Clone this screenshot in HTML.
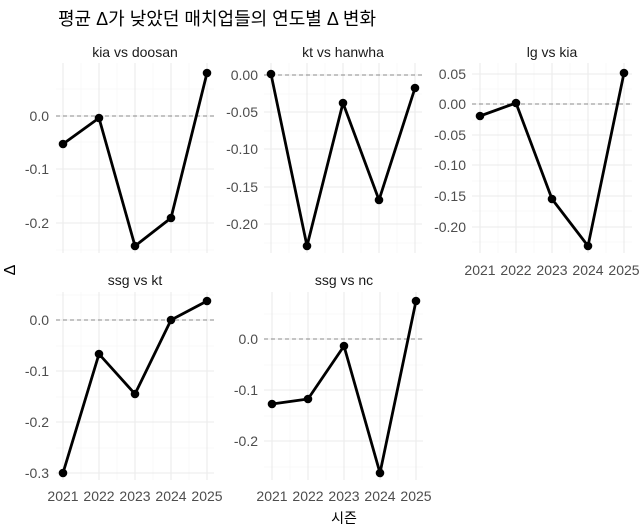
<!DOCTYPE html>
<html><head><meta charset="utf-8"><style>
html,body{margin:0;padding:0;background:#fff;}
svg{display:block;font-family:"Liberation Sans","Noto Sans CJK KR",sans-serif;}
.mj{stroke:#ebebeb;stroke-width:1.1;}
.mn{stroke:#f4f4f4;stroke-width:0.6;}
.z{stroke:#888;stroke-width:1;stroke-dasharray:4,3;}
.l{fill:none;stroke:#000;stroke-width:2.8;stroke-linejoin:round;}
.t{fill:#4d4d4d;font-size:14px;}
.s{fill:#1a1a1a;font-size:14px;}
</style></head><body>
<svg width="640" height="527" viewBox="0 0 640 527">
<text x="58" y="25" font-size="18" fill="#000">평균 Δ가 낮았던 매치업들의 연도별 Δ 변화</text>
<text x="15" y="270" font-size="16" fill="#000" transform="rotate(-90 15 270)" text-anchor="middle">Δ</text>
<text x="344" y="523" font-size="14" fill="#000" text-anchor="middle">시즌</text>

<!-- P1 -->
<g>
<line class="mn" x1="56" x2="214" y1="89" y2="89"/><line class="mn" x1="56" x2="214" y1="142" y2="142"/><line class="mn" x1="56" x2="214" y1="196" y2="196"/><line class="mn" x1="56" x2="214" y1="250" y2="250"/>
<line class="mn" x1="81" x2="81" y1="63" y2="253"/><line class="mn" x1="117" x2="117" y1="63" y2="253"/><line class="mn" x1="153" x2="153" y1="63" y2="253"/><line class="mn" x1="189" x2="189" y1="63" y2="253"/>
<line class="mj" x1="56" x2="214" y1="116" y2="116"/><line class="mj" x1="56" x2="214" y1="169" y2="169"/><line class="mj" x1="56" x2="214" y1="223" y2="223"/>
<line class="mj" x1="63" x2="63" y1="63" y2="253"/><line class="mj" x1="99" x2="99" y1="63" y2="253"/><line class="mj" x1="135" x2="135" y1="63" y2="253"/><line class="mj" x1="171" x2="171" y1="63" y2="253"/><line class="mj" x1="207" x2="207" y1="63" y2="253"/>
<line class="z" x1="56" x2="214" y1="116" y2="116"/>
<text class="t" x="49" y="121" text-anchor="end">0.0</text><text class="t" x="49" y="174" text-anchor="end">-0.1</text><text class="t" x="49" y="228" text-anchor="end">-0.2</text>
<text class="s" x="135" y="57" text-anchor="middle">kia vs doosan</text>
<polyline class="l" points="63,144 99,118 135,246 171,218 207,73"/>
<circle cx="63" cy="144" r="4.3"/><circle cx="99" cy="118" r="4.3"/><circle cx="135" cy="246" r="4.3"/><circle cx="171" cy="218" r="4.3"/><circle cx="207" cy="73" r="4.3"/>
</g>

<!-- P2 -->
<g>
<line class="mn" x1="264" x2="422" y1="94" y2="94"/><line class="mn" x1="264" x2="422" y1="131" y2="131"/><line class="mn" x1="264" x2="422" y1="168" y2="168"/><line class="mn" x1="264" x2="422" y1="205" y2="205"/><line class="mn" x1="264" x2="422" y1="243" y2="243"/>
<line class="mn" x1="289" x2="289" y1="63" y2="253"/><line class="mn" x1="325" x2="325" y1="63" y2="253"/><line class="mn" x1="361" x2="361" y1="63" y2="253"/><line class="mn" x1="397" x2="397" y1="63" y2="253"/>
<line class="mj" x1="264" x2="422" y1="75" y2="75"/><line class="mj" x1="264" x2="422" y1="112" y2="112"/><line class="mj" x1="264" x2="422" y1="149" y2="149"/><line class="mj" x1="264" x2="422" y1="187" y2="187"/><line class="mj" x1="264" x2="422" y1="224" y2="224"/>
<line class="mj" x1="271" x2="271" y1="63" y2="253"/><line class="mj" x1="307" x2="307" y1="63" y2="253"/><line class="mj" x1="343" x2="343" y1="63" y2="253"/><line class="mj" x1="379" x2="379" y1="63" y2="253"/><line class="mj" x1="415" x2="415" y1="63" y2="253"/>
<line class="z" x1="264" x2="422" y1="75" y2="75"/>
<text class="t" x="258" y="80" text-anchor="end">0.00</text><text class="t" x="258" y="117" text-anchor="end">-0.05</text><text class="t" x="258" y="154" text-anchor="end">-0.10</text><text class="t" x="258" y="192" text-anchor="end">-0.15</text><text class="t" x="258" y="229" text-anchor="end">-0.20</text>
<text class="s" x="343" y="57" text-anchor="middle">kt vs hanwha</text>
<polyline class="l" points="271,74 307,246 343,103 379,200 415,88"/>
<circle cx="271" cy="74" r="4.3"/><circle cx="307" cy="246" r="4.3"/><circle cx="343" cy="103" r="4.3"/><circle cx="379" cy="200" r="4.3"/><circle cx="415" cy="88" r="4.3"/>
</g>

<!-- P3 -->
<g>
<line class="mn" x1="472" x2="632" y1="89" y2="89"/><line class="mn" x1="472" x2="632" y1="120" y2="120"/><line class="mn" x1="472" x2="632" y1="150" y2="150"/><line class="mn" x1="472" x2="632" y1="181" y2="181"/><line class="mn" x1="472" x2="632" y1="211" y2="211"/><line class="mn" x1="472" x2="632" y1="242" y2="242"/>
<line class="mn" x1="498" x2="498" y1="63" y2="253"/><line class="mn" x1="534" x2="534" y1="63" y2="253"/><line class="mn" x1="570" x2="570" y1="63" y2="253"/><line class="mn" x1="606" x2="606" y1="63" y2="253"/>
<line class="mj" x1="472" x2="632" y1="74" y2="74"/><line class="mj" x1="472" x2="632" y1="104" y2="104"/><line class="mj" x1="472" x2="632" y1="135" y2="135"/><line class="mj" x1="472" x2="632" y1="165" y2="165"/><line class="mj" x1="472" x2="632" y1="196" y2="196"/><line class="mj" x1="472" x2="632" y1="227" y2="227"/>
<line class="mj" x1="480" x2="480" y1="63" y2="253"/><line class="mj" x1="516" x2="516" y1="63" y2="253"/><line class="mj" x1="552" x2="552" y1="63" y2="253"/><line class="mj" x1="588" x2="588" y1="63" y2="253"/><line class="mj" x1="624" x2="624" y1="63" y2="253"/>
<line class="z" x1="472" x2="632" y1="104" y2="104"/>
<text class="t" x="466" y="79" text-anchor="end">0.05</text><text class="t" x="466" y="109" text-anchor="end">0.00</text><text class="t" x="466" y="140" text-anchor="end">-0.05</text><text class="t" x="466" y="170" text-anchor="end">-0.10</text><text class="t" x="466" y="201" text-anchor="end">-0.15</text><text class="t" x="466" y="232" text-anchor="end">-0.20</text>
<text class="s" x="552" y="57" text-anchor="middle">lg vs kia</text>
<g class="t" text-anchor="middle"><text x="480" y="275">2021</text><text x="516" y="275">2022</text><text x="552" y="275">2023</text><text x="588" y="275">2024</text><text x="624" y="275">2025</text></g>
<polyline class="l" points="480,116 516,103 552,199 588,246 624,73"/>
<circle cx="480" cy="116" r="4.3"/><circle cx="516" cy="103" r="4.3"/><circle cx="552" cy="199" r="4.3"/><circle cx="588" cy="246" r="4.3"/><circle cx="624" cy="73" r="4.3"/>
</g>

<!-- P4 -->
<g>
<line class="mn" x1="56" x2="214" y1="295" y2="295"/><line class="mn" x1="56" x2="214" y1="346" y2="346"/><line class="mn" x1="56" x2="214" y1="397" y2="397"/><line class="mn" x1="56" x2="214" y1="448" y2="448"/>
<line class="mn" x1="81" x2="81" y1="292" y2="480"/><line class="mn" x1="117" x2="117" y1="292" y2="480"/><line class="mn" x1="153" x2="153" y1="292" y2="480"/><line class="mn" x1="189" x2="189" y1="292" y2="480"/>
<line class="mj" x1="56" x2="214" y1="320" y2="320"/><line class="mj" x1="56" x2="214" y1="371" y2="371"/><line class="mj" x1="56" x2="214" y1="422" y2="422"/><line class="mj" x1="56" x2="214" y1="473" y2="473"/>
<line class="mj" x1="63" x2="63" y1="292" y2="480"/><line class="mj" x1="99" x2="99" y1="292" y2="480"/><line class="mj" x1="135" x2="135" y1="292" y2="480"/><line class="mj" x1="171" x2="171" y1="292" y2="480"/><line class="mj" x1="207" x2="207" y1="292" y2="480"/>
<line class="z" x1="56" x2="214" y1="320" y2="320"/>
<text class="t" x="49" y="325" text-anchor="end">0.0</text><text class="t" x="49" y="376" text-anchor="end">-0.1</text><text class="t" x="49" y="427" text-anchor="end">-0.2</text><text class="t" x="49" y="478" text-anchor="end">-0.3</text>
<text class="s" x="135" y="285" text-anchor="middle">ssg vs kt</text>
<g class="t" text-anchor="middle"><text x="63" y="501">2021</text><text x="99" y="501">2022</text><text x="135" y="501">2023</text><text x="171" y="501">2024</text><text x="207" y="501">2025</text></g>
<polyline class="l" points="63,473 99,354 135,394 171,320 207,301"/>
<circle cx="63" cy="473" r="4.3"/><circle cx="99" cy="354" r="4.3"/><circle cx="135" cy="394" r="4.3"/><circle cx="171" cy="320" r="4.3"/><circle cx="207" cy="301" r="4.3"/>
</g>

<!-- P5 -->
<g>
<line class="mn" x1="264" x2="423" y1="314" y2="314"/><line class="mn" x1="264" x2="423" y1="365" y2="365"/><line class="mn" x1="264" x2="423" y1="416" y2="416"/><line class="mn" x1="264" x2="423" y1="467" y2="467"/>
<line class="mn" x1="290" x2="290" y1="292" y2="480"/><line class="mn" x1="326" x2="326" y1="292" y2="480"/><line class="mn" x1="362" x2="362" y1="292" y2="480"/><line class="mn" x1="398" x2="398" y1="292" y2="480"/>
<line class="mj" x1="264" x2="423" y1="339" y2="339"/><line class="mj" x1="264" x2="423" y1="390" y2="390"/><line class="mj" x1="264" x2="423" y1="441" y2="441"/>
<line class="mj" x1="272" x2="272" y1="292" y2="480"/><line class="mj" x1="308" x2="308" y1="292" y2="480"/><line class="mj" x1="344" x2="344" y1="292" y2="480"/><line class="mj" x1="380" x2="380" y1="292" y2="480"/><line class="mj" x1="416" x2="416" y1="292" y2="480"/>
<line class="z" x1="264" x2="423" y1="339" y2="339"/>
<text class="t" x="258" y="344" text-anchor="end">0.0</text><text class="t" x="258" y="395" text-anchor="end">-0.1</text><text class="t" x="258" y="446" text-anchor="end">-0.2</text>
<text class="s" x="344" y="285" text-anchor="middle">ssg vs nc</text>
<g class="t" text-anchor="middle"><text x="272" y="501">2021</text><text x="308" y="501">2022</text><text x="344" y="501">2023</text><text x="380" y="501">2024</text><text x="416" y="501">2025</text></g>
<polyline class="l" points="272,404 308,399 344,346 380,473 416,301"/>
<circle cx="272" cy="404" r="4.3"/><circle cx="308" cy="399" r="4.3"/><circle cx="344" cy="346" r="4.3"/><circle cx="380" cy="473" r="4.3"/><circle cx="416" cy="301" r="4.3"/>
</g>
</svg>
</body></html>
